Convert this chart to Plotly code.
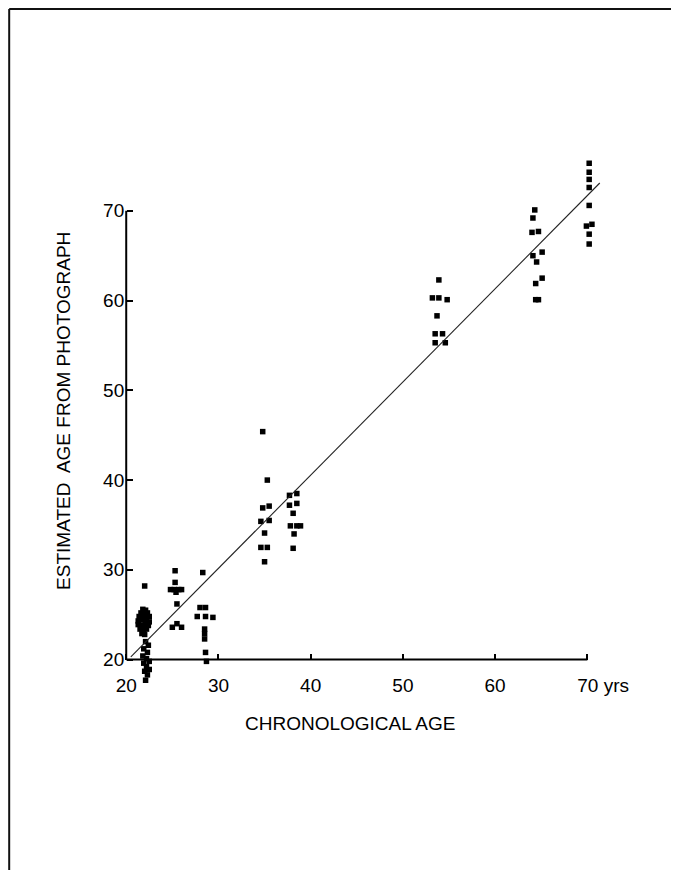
import plotly.graph_objects as go

# ---------------- data ----------------
g22_x = [22.0, 21.8, 22.1, 21.6, 22.0, 22.3, 21.4, 21.8, 22.2, 22.5, 21.3, 21.7, 22.1, 22.5,
         21.3, 21.7, 22.1, 22.4, 21.5, 21.9, 22.2, 21.7, 22.0,
         22.1, 22.4, 21.9, 22.3, 21.8, 22.2, 22.5, 21.9, 22.2, 22.5, 22.0, 22.3, 22.1]
g22_y = [28.2, 25.6, 25.5, 25.2, 25.1, 25.2, 24.8, 24.8, 24.7, 24.8, 24.3, 24.4, 24.3, 24.2,
         23.9, 23.8, 23.9, 23.8, 23.4, 23.3, 23.4, 22.9, 22.8,
         22.0, 21.6, 21.2, 20.8, 20.4, 20.1, 19.8, 19.6, 19.2, 18.9, 18.7, 18.3, 17.7]

g25_x = [25.3, 25.3, 24.8, 25.2, 25.7, 26.0, 25.4, 25.5, 25.5, 25.0, 26.0]
g25_y = [29.9, 28.6, 27.8, 27.8, 27.8, 27.8, 27.5, 26.2, 24.0, 23.6, 23.6]

g28_x = [28.3, 28.0, 28.6, 27.7, 28.6, 29.4, 28.5, 28.5, 28.5, 28.6, 28.7]
g28_y = [29.7, 25.8, 25.8, 24.8, 24.8, 24.7, 23.4, 22.9, 22.3, 20.8, 19.8]

g35_x = [34.8, 35.3, 34.8, 35.5, 34.6, 35.5, 35.0, 34.6, 35.3, 35.0]
g35_y = [45.4, 40.0, 36.9, 37.1, 35.4, 35.5, 34.1, 32.5, 32.5, 30.9]

g38_x = [37.7, 38.5, 37.7, 38.5, 38.1, 37.8, 38.5, 38.9, 38.2, 38.1]
g38_y = [38.3, 38.5, 37.2, 37.4, 36.3, 34.9, 34.9, 34.9, 34.0, 32.4]

g54_x = [53.9, 53.2, 53.9, 54.8, 53.7, 53.5, 54.3, 53.5, 54.6]
g54_y = [62.3, 60.3, 60.3, 60.1, 58.3, 56.3, 56.3, 55.3, 55.3]

g64_x = [64.3, 64.1, 64.0, 64.7, 64.1, 65.1, 64.5, 65.1, 64.4, 64.4, 64.7]
g64_y = [70.1, 69.2, 67.6, 67.7, 65.0, 65.4, 64.3, 62.5, 61.9, 60.1, 60.1]

g70_x = [70.2, 70.2, 70.2, 70.2, 70.2, 69.9, 70.5, 70.2, 70.2]
g70_y = [75.3, 74.3, 73.5, 72.6, 70.6, 68.3, 68.5, 67.4, 66.3]

fit_x = [20.5, 71.35]
fit_y = [20.3, 73.1]

tick_vals = [20, 30, 40, 50, 60, 70]
x_tick_text = ["20", "30", "40", "50", "60", "\u00a0\u00a0\u00a0\u00a0\u00a0\u00a070 yrs"]
y_tick_text = ["20", "30", "40", "50", "60", "70"]

x_title = "CHRONOLOGICAL AGE"
y_title = "ESTIMATED  AGE FROM PHOTOGRAPH"

# ---------------- layout geometry ----------------
OFF = 8                     # default page margin of the html body
W, H = 679 - 2 * OFF, 878 - 2 * OFF
X_RANGE = [19, 73]
Y_RANGE = [16.5, 77]
PX_X = (587 - 126) / 50.0   # pixels per year on x
PX_Y = (660 - 211) / 50.0   # pixels per year on y
left = 126 - OFF - (20 - X_RANGE[0]) * PX_X
right = 587 - OFF + (X_RANGE[1] - 70) * PX_X
top = 211 - OFF - (Y_RANGE[1] - 70) * PX_Y
bottom = 660 - OFF + (20 - Y_RANGE[0]) * PX_Y
M_L, M_R, M_T, M_B = left, W - right, top, H - bottom
PW, PH = right - left, bottom - top


def px(xp):   # page pixel -> paper x
    return (xp - OFF - left) / PW


def py(yp):   # page pixel -> paper y
    return (bottom - (yp - OFF)) / PH


FONT = "Liberation Sans, Arial, sans-serif"

fig = go.Figure()

groups = [(g22_x, g22_y), (g25_x, g25_y), (g28_x, g28_y), (g35_x, g35_y),
          (g38_x, g38_y), (g54_x, g54_y), (g64_x, g64_y), (g70_x, g70_y)]
for gx, gy in groups:
    fig.add_trace(go.Scatter(
        x=gx, y=gy, mode="markers",
        marker=dict(symbol="square", size=5.5, color="black", line=dict(width=0)),
        cliponaxis=False, showlegend=False, hoverinfo="x+y"))

fig.add_trace(go.Scatter(
    x=fit_x, y=fit_y, mode="lines",
    line=dict(color="#222222", width=1.1), showlegend=False, hoverinfo="skip"))

fig.update_layout(
    width=W, height=H, autosize=False,
    margin=dict(l=M_L, r=M_R, t=M_T, b=M_B, pad=0),
    paper_bgcolor="white", plot_bgcolor="white",
    font=dict(family=FONT, size=19, color="black"),
    xaxis=dict(range=X_RANGE, showgrid=False, zeroline=False, showline=False,
               tickvals=tick_vals, ticktext=x_tick_text, ticks="inside",
               ticklen=6, tickwidth=2, tickcolor="black",
               anchor="free", position=(20 - Y_RANGE[0]) / (Y_RANGE[1] - Y_RANGE[0]),
               ticklabelstandoff=12, tickfont=dict(size=19)),
    yaxis=dict(range=Y_RANGE, showgrid=False, zeroline=False, showline=False,
               tickvals=tick_vals, ticktext=y_tick_text, ticks="inside",
               ticklen=6, tickwidth=2, tickcolor="black",
               anchor="free", position=(20 - X_RANGE[0]) / (X_RANGE[1] - X_RANGE[0]),
               ticklabelstandoff=2, tickfont=dict(size=19)),
    shapes=[
        # axis lines 20..70
        dict(type="line", xref="x", yref="y", x0=20, x1=70, y0=20, y1=20,
             line=dict(color="black", width=2)),
        dict(type="line", xref="x", yref="y", x0=20, x1=20, y0=20, y1=70,
             line=dict(color="black", width=2)),
        # outer frame (top and left edges)
        dict(type="line", xref="paper", yref="paper", x0=px(9), x1=px(679),
             y0=py(9), y1=py(9), line=dict(color="#111111", width=2)),
        dict(type="line", xref="paper", yref="paper", x0=px(9), x1=px(9),
             y0=py(9), y1=py(878), line=dict(color="#111111", width=2)),
    ],
    annotations=[
        dict(text=x_title, xref="paper", yref="paper", x=px(350), y=py(724),
             xanchor="center", yanchor="middle", showarrow=False,
             font=dict(size=19)),
        dict(text=y_title, xref="paper", yref="paper", x=px(64), y=py(411),
             xanchor="center", yanchor="middle", textangle=-90, showarrow=False,
             font=dict(size=19)),
    ],
)

fig.write_html("out.html")
